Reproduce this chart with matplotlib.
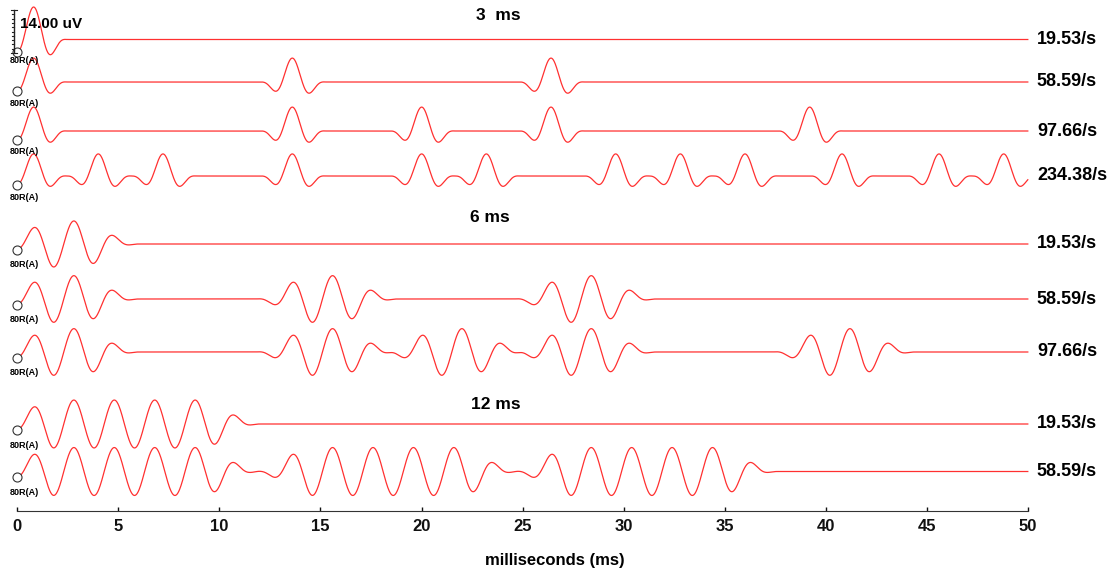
import numpy as np
import matplotlib
matplotlib.use('Agg')
import matplotlib.pyplot as plt

plt.rcParams['font.family'] = ['Liberation Sans', 'DejaVu Sans']

## traces, top to bottom
burst_ms = [3, 3, 3, 3, 6, 6, 6, 12, 12]
rate_labels = ['19.53/s', '58.59/s', '97.66/s', '234.38/s',
               '19.53/s', '58.59/s', '97.66/s',
               '19.53/s', '58.59/s']
# burst onsets (ms)
onsets_ms = [
    [0.0],
    [0.0, 12.8, 25.6],
    [0.0, 12.8, 19.2, 25.6, 38.4],
    [0.0, 3.2, 6.4, 12.8, 19.2, 22.4, 28.8, 32.0, 35.2, 40.0, 44.8, 48.0],
    [0.0],
    [0.0, 12.8, 25.6],
    [0.0, 12.8, 19.2, 25.6, 38.4],
    [0.0],
    [0.0, 12.8, 25.6],
]
peak_uv = [10.6, 7.8, 7.8, 7.2, 7.5, 7.6, 7.6, 7.8, 7.8]
channel = '80R(A)'
group_titles = ['3  ms', '6 ms', '12 ms']
scale_uv = 14.0

## tone burst template: 500 Hz carrier, first peak 0.8 ms after onset
carrier_period = 2.0
first_peak = 0.8
# (ramp start, ramp end, ramp length) in ms after onset
ramp = {3: (-0.8, 2.5, 1.65), 6: (-1.1, 6.0, 3.0), 12: (-1.1, 12.0, 3.0)}

## layout (pixels of the 1118x571 picture)
px_per_ms = 20.21
x0_px = 17.3
uv_per_px = scale_uv / 43.0
baseline_px = [39.5, 82, 131, 176, 244, 299, 352, 424, 471.5]
axis_px = 510.7


def envelope(t, a, b, r):
    e = np.ones_like(t)
    up = (t >= a) & (t < a + r)
    e[up] = np.sin(np.pi / 2 * (t[up] - a) / r) ** 2
    dn = (t > b - r) & (t <= b)
    e[dn] = np.sin(np.pi / 2 * (b - t[dn]) / r) ** 2
    e[(t < a) | (t > b)] = 0
    return e


def burst(t, dur):
    a, b, r = ramp[dur]
    return np.cos(2 * np.pi * (t - first_peak) / carrier_period) * envelope(t, a, b, r)


fig = plt.figure(figsize=(11.18, 5.71), dpi=100)
ax = fig.add_axes([0, 0, 1, 1])
ax.set_xlim(-x0_px / px_per_ms, (1118 - x0_px) / px_per_ms)
ax.set_ylim(571 * uv_per_px, 0)

t = np.linspace(0, 50, 3001)
for i in range(len(burst_ms)):
    base = baseline_px[i] * uv_per_px
    wave = np.zeros_like(t)
    for on in onsets_ms[i]:
        wave += burst(t - on, burst_ms[i])
    y = base - peak_uv[i] * wave
    ax.plot(t, y, '-', color='#ff3030', lw=0.9)
    ax.plot(t[0], y[0], 'o', ms=6.5, mfc='white', mec='#333333', mew=0.8, clip_on=False)
    ax.text(-0.36, base + 21 * uv_per_px, channel, fontsize=6.5, fontweight='bold',
            ha='left', va='center')
    ax.text(50.45, base, rate_labels[i], fontsize=13, fontweight='bold',
            ha='left', va='center')

## group titles
for lab, (tx, ty) in zip(group_titles, [(23.8, 15), (23.4, 218), (23.7, 404)]):
    ax.text(tx, ty * uv_per_px, lab, fontsize=12.5, fontweight='bold', ha='center', va='center')

## amplitude scale bar
xs = -0.17
top = 10 * uv_per_px
ax.plot([xs, xs], [top, top + scale_uv], '-', color='#222222', lw=1, clip_on=False)
for k in range(11):
    yy = top + k * scale_uv / 10
    w = 0.15 if k in (0, 10) else 0.1
    ax.plot([xs - w, xs + (0.15 if k in (0, 10) else 0)], [yy, yy], '-',
            color='#222222', lw=0.8, clip_on=False)
ax.text(0.15, 24 * uv_per_px, '%.2f uV' % scale_uv, fontsize=11, fontweight='bold',
        ha='left', va='center')

## time axis
for s in ['top', 'left', 'right']:
    ax.spines[s].set_visible(False)
ax.spines['bottom'].set_position(('data', axis_px * uv_per_px))
ax.spines['bottom'].set_bounds(0, 50)
ax.spines['bottom'].set_color('#333333')
ax.set_yticks([])
ax.set_xticks(np.arange(0, 51, 5))
ax.tick_params(axis='x', direction='in', length=3, width=1, pad=6,
               labelsize=12, colors='#111111')
for lb in ax.get_xticklabels():
    lb.set_fontweight('bold')
ax.text(26.6, 560 * uv_per_px, 'milliseconds (ms)', fontsize=12, fontweight='bold',
        ha='center', va='center')
ax.patch.set_visible(False)

plt.savefig('out.png', dpi=100)
